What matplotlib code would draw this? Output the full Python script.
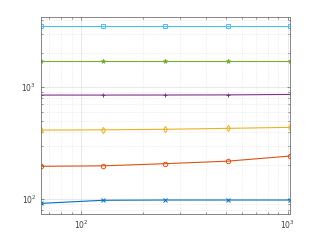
import numpy as np
import matplotlib.pyplot as plt

n = [64, 128, 256, 512, 1024]
s1 = [91.5, 97.5, 98, 98, 98]
s2 = [196, 198, 207, 218, 242]
s3 = [413, 415, 420, 428, 437]
s4 = [849, 849, 850, 852, 860]
s5 = [1700, 1700, 1700, 1700, 1700]
s6 = [3500, 3500, 3500, 3500, 3500]

series = [
    (s1, 'x', (0, 0.447, 0.741)),
    (s2, 'o', (0.85, 0.325, 0.098)),
    (s3, 'd', (0.929, 0.694, 0.125)),
    (s4, '+', (0.494, 0.184, 0.556)),
    (s5, '*', (0.466, 0.674, 0.188)),
    (s6, 's', (0.301, 0.745, 0.933)),
]

fig = plt.figure(figsize=(3.21, 2.41), dpi=100)
ax = fig.add_axes([0.128, 0.112, 0.775, 0.817])

for y, m, c in series:
    ax.plot(n, y, marker=m, color=c, lw=0.8, ms=3.2, mfc='none', mew=0.7)

ax.set_xscale('log')
ax.set_yscale('log')
ax.set_xlim(64, 1024)
ax.set_ylim(73.5, 4220)

ax.grid(True, which='major', color=(0.88, 0.88, 0.88), lw=0.5)
ax.grid(True, which='minor', color=(0.88, 0.88, 0.88), lw=0.5, ls=':')
ax.tick_params(which='both', direction='in', top=True, right=True,
               labelsize=5.5, colors=(0.4, 0.4, 0.4), labelcolor=(0.25, 0.25, 0.25),
               length=2.5, width=0.5)
ax.tick_params(which='minor', length=1.5, labelleft=False, labelbottom=False)
for sp in ax.spines.values():
    sp.set_color((0.45, 0.45, 0.45))
    sp.set_linewidth(0.6)

fig.savefig('out.png')
